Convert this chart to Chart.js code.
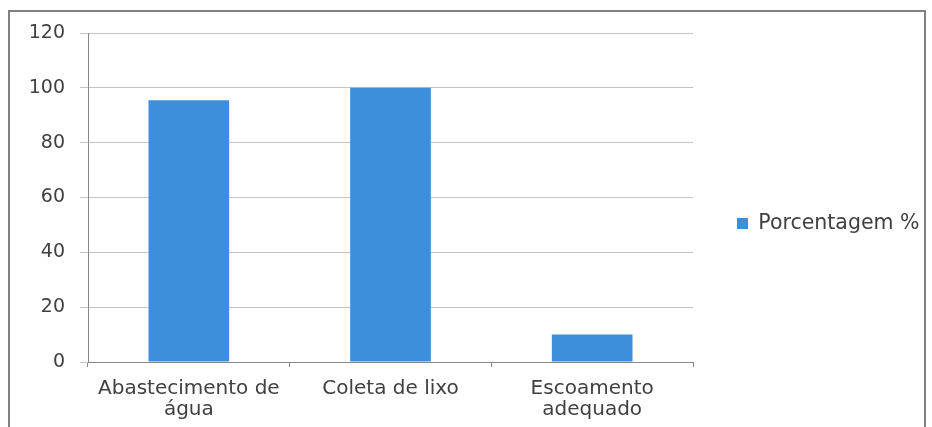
<!DOCTYPE html>
<html>
<head>
<meta charset="utf-8">
<script src="https://cdn.jsdelivr.net/npm/chart.js@4"></script>
<style>
  body { margin: 0; background: #fff; }
  #frame { position: absolute; left: 8px; top: 10px; width: 914px; height: 440px; border: 2px solid #808080; }
  #wrap { position: absolute; left: 0; top: 0; width: 932px; height: 427px; }
</style>
</head>
<body>
<div id="frame"></div>
<div id="wrap"><canvas id="bars" width="932" height="427"></canvas></div>
<script>
// categories and values
categorias = [['Abastecimento de', 'água'], 'Coleta de lixo', ['Escoamento', 'adequado']]
porcentagem = [95.5, 100, 10]
serieNome = 'Porcentagem %'

textColor = '#404040'
fonte = { family: 'DejaVu Sans', size: 20, lineHeight: 1.05 }

chartdata = {
  labels: categorias,
  datasets: [{
    label: serieNome,
    backgroundColor: '#3d8fdb',
    borderWidth: 0,
    barPercentage: 0.4,
    categoryPercentage: 1,
    data: porcentagem
  }]
};

config = {
  type: 'bar',
  data: chartdata,
  options: {
    responsive: false,
    animation: false,
    layout: { padding: { top: 20, right: 8, bottom: 0, left: 0 } },
    plugins: {
      tooltip: { enabled: false },
      // empty spacer above the plot only, so the legend stays centred like the original
      title: { display: true, text: ' ', fullSize: false, padding: 0, font: { size: 13, lineHeight: 1 } },
      legend: {
        position: 'right',
        labels: {
          boxWidth: 11,
          boxHeight: 11,
          padding: 44,
          color: textColor,
          font: { family: 'DejaVu Sans', size: 20.5 }
        }
      }
    },
    scales: {
      x: {
        grid: { offset: true, drawOnChartArea: false, tickLength: 5, color: '#888' },
        border: { color: '#888' },
        ticks: { color: textColor, font: fonte, padding: 11, maxRotation: 0 },
        afterFit: function(s) { s.height = 65; }
      },
      y: {
        min: 0,
        max: 120,
        ticks: { stepSize: 20, color: textColor, font: { family: 'DejaVu Sans', size: 19 }, padding: 15 },
        grid: { color: '#c4c4c4', tickLength: 8 },
        border: { color: '#888' },
        afterFit: function(s) { s.width = 88; }
      }
    }
  }
};

var myChart = new Chart(document.getElementById('bars'), config);
</script>
</body>
</html>
